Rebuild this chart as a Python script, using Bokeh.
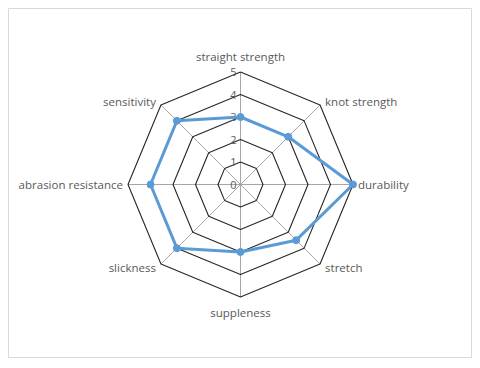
import numpy as np
from bokeh.plotting import figure
from bokeh.models import Range1d, ColumnDataSource
from bokeh.core.properties import value
from bokeh.embed import file_html
from bokeh.resources import INLINE

categories = ["straight strength", "knot strength", "durability", "stretch",
              "suppleness", "slickness", "abrasion resistance", "sensitivity"]
values = [3, 3, 5, 3.5, 3, 4, 4, 4]
tick_labels = ["0", "1", "2", "3", "4", "5"]
max_val = 5

M = 8
FW, FH = 464, 350
scale = 112.5 / max_val  # px per unit
cx_px, cy_px = 232, 176  # center in frame pixels from left/top

p = figure(width=FW + M, height=FH + M, output_backend="svg", toolbar_location=None,
           min_border_left=M, min_border_top=M, min_border_right=0, min_border_bottom=0,
           x_range=Range1d(-cx_px / scale, (FW - cx_px) / scale),
           y_range=Range1d(-(FH - cy_px) / scale, cy_px / scale))
p.axis.visible = False
p.grid.visible = False
p.outline_line_color = "#d9d9d9"
p.outline_line_width = 1
p.background_fill_color = "white"

n = len(categories)
ang = np.pi / 2 - np.arange(n) * 2 * np.pi / n
cs, sn = np.cos(ang), np.sin(ang)

# spokes
p.segment(x0=[0] * n, y0=[0] * n, x1=list(max_val * cs), y1=list(max_val * sn),
          line_color="#a6a6a6", line_width=1)
# rings
for k in range(1, max_val + 1):
    p.line(x=list(k * cs) + [k * cs[0]], y=list(k * sn) + [k * sn[0]],
           line_color="#262626", line_width=1.1)

# tick labels
p.text(x=[-4 / scale] * len(tick_labels), y=[float(t) for t in tick_labels],
       text=tick_labels, text_align="right", text_baseline="middle",
       text_font=value("Open Sans"), text_font_size="11px", text_color="#595959")

# data
vx = list(np.array(values) * cs)
vy = list(np.array(values) * sn)
p.line(x=vx + [vx[0]], y=vy + [vy[0]], line_color="#5b9bd5", line_width=3)
p.scatter(x=vx, y=vy, size=7, fill_color="#5b9bd5", line_color="#5b9bd5")

# category labels
lx, ly, al, bl = [], [], [], []
off = 5 / scale
for i in range(n):
    c, s = cs[i], sn[i]
    if abs(c) < 0.1:
        x = 0
        y = max_val * s + (8 / scale) * (1 if s > 0 else -1)
        a = "center"
        b = "bottom" if s > 0 else "top"
    else:
        x = max_val * c + off * (1 if c > 0 else -1)
        a = "left" if c > 0 else "right"
        b = "middle"
        y = max_val * s
        if abs(s) > 0.1:
            y = y + (3 / scale if s > 0 else -3 / scale)
    lx.append(x); ly.append(y); al.append(a); bl.append(b)

src = ColumnDataSource(dict(x=lx, y=ly, t=categories, a=al, b=bl))
p.text(x="x", y="y", text="t", text_align="a", text_baseline="b", source=src,
       text_font=value("Open Sans"), text_font_size="11.5px", text_color="#595959")

open("out.html", "w").write(file_html(p, INLINE))
